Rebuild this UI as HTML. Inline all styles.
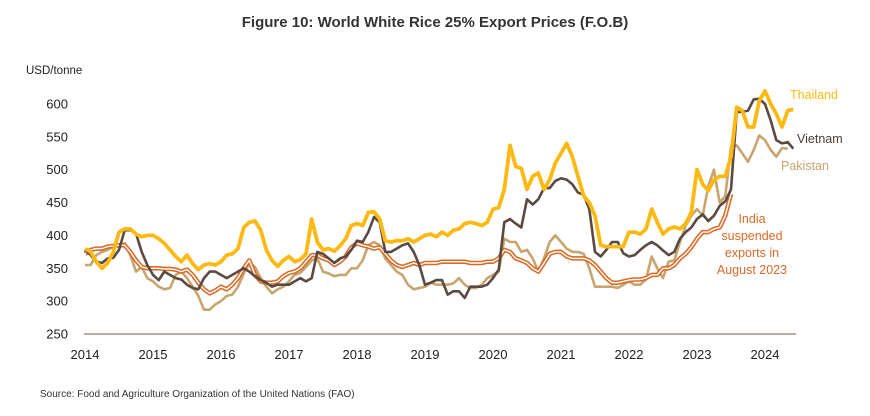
<!DOCTYPE html>
<html><head><meta charset="utf-8"><style>
body{margin:0;background:#fff;font-family:"Liberation Sans",sans-serif}
svg text{font-family:"Liberation Sans",sans-serif}
</style></head><body>
<svg id="chart" width="870" height="411" viewBox="0 0 870 411">
<text x="435" y="27" text-anchor="middle" font-size="15" font-weight="bold" fill="#333">Figure 10: World White Rice 25% Export Prices (F.O.B)</text>
<text x="26" y="74" font-size="11.5" fill="#222">USD/tonne</text>
<g id="yticks"></g><g id="xticks"></g><g id="series"></g>
<line x1="84" y1="334" x2="796" y2="334" stroke="#8a7a74" stroke-width="1.3"/>
<text x="790" y="99" font-size="12.5" fill="#FDB913">Thailand</text>
<text x="797" y="143" font-size="12.5" fill="#4a3c36">Vietnam</text>
<text x="781" y="170" font-size="12.5" fill="#C8A46E">Pakistan</text>
<g font-size="12.5" fill="#D86A26" text-anchor="middle">
<text x="752" y="223">India</text><text x="752" y="240">suspended</text><text x="752" y="257">exports in</text><text x="752" y="274">August 2023</text></g>
<text x="40" y="397" font-size="10" fill="#333">Source: Food and Agriculture Organization of the United Nations (FAO)</text>
</svg>
<script>
const yTicks=[250,300,350,400,450,500,550,600];
const xYears=[2014,2015,2016,2017,2018,2019,2020,2021,2022,2023,2024];
const thailand=[380,375,360,350,358,375,405,410,410,402,398,400, 400,395,388,378,368,360,370,357,348,355,357,355, 360,370,372,380,412,420,422,408,378,362,353,362, 368,360,363,372,425,390,378,380,376,384,395,415, 418,415,435,436,425,392,390,392,392,395,390,395, 400,402,398,405,400,408,410,418,420,418,415,420, 440,442,470,537,505,502,470,490,495,470,485,510, 525,540,520,490,460,450,430,385,383,383,383,383, 405,405,402,410,440,420,402,410,413,410,418,435, 500,478,468,485,490,490,520,595,590,565,565,605, 620,600,585,565,590,592];
const vietnam=[378,370,360,358,365,366,378,408,408,403,375,355, 340,332,345,340,335,333,325,320,318,335,345,345, 340,335,340,345,350,345,338,332,328,322,325,325, 325,330,335,330,335,375,372,365,358,365,368,378, 392,390,405,428,420,375,375,380,385,388,375,355, 325,328,332,332,310,315,315,305,322,322,322,325, 335,348,420,425,418,412,455,447,455,472,472,483, 487,485,478,465,462,440,375,368,378,390,390,373, 368,370,378,385,390,385,377,370,375,395,405,412, 425,432,422,430,445,452,470,588,588,590,607,608, 600,575,545,540,542,532];
const pakistan=[355,355,370,375,378,383,385,388,370,345,352,335, 330,322,318,320,340,345,335,322,308,287,287,295, 300,308,310,322,342,358,352,335,322,312,318,322, 330,340,343,352,362,365,345,342,338,340,340,350, 350,362,385,390,385,365,355,345,340,325,318,320, 322,328,325,325,325,327,335,325,320,320,325,335, 340,345,395,390,390,375,378,365,345,365,390,400, 390,380,375,375,372,350,322,322,322,322,320,325, 330,325,325,333,368,350,335,360,362,390,415,430, 440,430,475,500,450,460,535,537,525,512,530,552, 545,530,520,533,532];
const india=[372,378,380,380,383,384,385,385,375,362,352,350, 350,350,349,349,348,345,348,340,328,318,312,316, 322,318,325,335,350,362,340,330,328,328,330,338, 343,345,350,360,370,370,365,362,355,360,368,382, 388,385,383,380,382,372,362,355,352,355,358,355, 358,358,358,360,360,360,360,360,358,358,358,360, 360,365,378,375,365,362,358,350,345,358,372,375, 375,368,365,365,365,362,355,345,335,328,328,330, 332,333,333,335,340,340,350,350,355,365,372,382, 395,405,405,410,412,430,463];

const NS="http://www.w3.org/2000/svg";
function y(v){return 334-(v-250)*230/350;}
function x(i){return 85+i*68/12;}
const yt=document.getElementById('yticks');
yTicks.forEach(v=>{const t=document.createElementNS(NS,'text');


t.setAttribute('x',68);t.setAttribute('y',y(v)+4.5);t.setAttribute('text-anchor','end');t.setAttribute('font-size','13');t.setAttribute('fill','#222');t.textContent=v;yt.appendChild(t);});
const xt=document.getElementById('xticks');
xYears.forEach((yr,k)=>{const t=document.createElementNS(NS,'text');


t.setAttribute('x',x(k*12));t.setAttribute('y',359);t.setAttribute('text-anchor','middle');t.setAttribute('font-size','13');t.setAttribute('fill','#222');t.textContent=yr;xt.appendChild(t);});
const sg=document.getElementById('series');
function pts(a){return a.map((v,i)=>x(i).toFixed(1)+','+y(v).toFixed(1)).join(' ');}
function line(a,col,w,name){const p=document.createElementNS(NS,'polyline');


p.setAttribute('points',pts(a));p.setAttribute('fill','none');p.setAttribute('stroke',col);p.setAttribute('stroke-width',w);p.setAttribute('stroke-linejoin','round');sg.appendChild(p);}
line(pakistan,'#C8A46E',2.6,'pakistan-line');
line(india,'#D86A26',4.5,'india-line');
line(india,'#ffffff',1.4,'india-line-inner');
line(vietnam,'#5A4A42',2.6,'vietnam-line');
line(thailand,'#FDB913',3.8,'thailand-line');
</script>
</body></html>
